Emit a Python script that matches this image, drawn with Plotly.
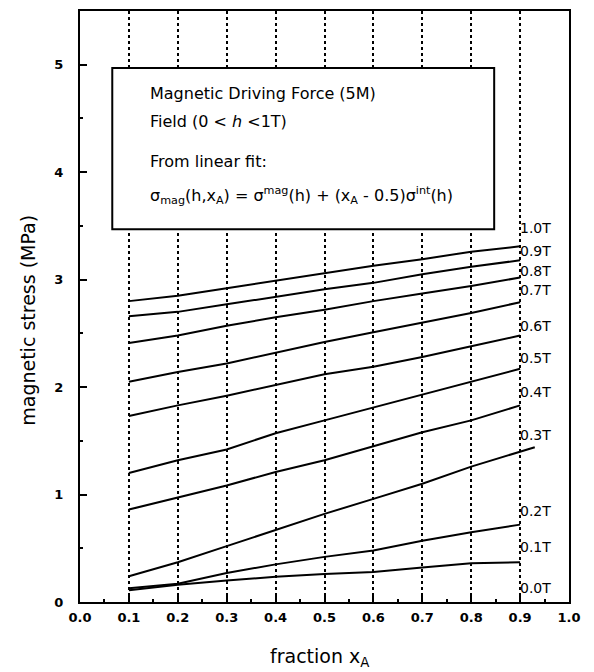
import plotly.graph_objects as go

# ---- data ----
fraction_x = [0.1, 0.2, 0.3, 0.4, 0.5, 0.6, 0.7, 0.8, 0.9]

stress_1_0T = [2.80, 2.85, 2.92, 2.99, 3.06, 3.13, 3.19, 3.26, 3.31]
stress_0_9T = [2.66, 2.70, 2.77, 2.84, 2.91, 2.97, 3.05, 3.12, 3.18]
stress_0_8T = [2.41, 2.48, 2.57, 2.65, 2.72, 2.80, 2.87, 2.94, 3.02]
stress_0_7T = [2.05, 2.14, 2.22, 2.32, 2.42, 2.51, 2.60, 2.69, 2.79]
stress_0_6T = [1.73, 1.83, 1.92, 2.02, 2.12, 2.19, 2.28, 2.38, 2.48]
stress_0_5T = [1.20, 1.32, 1.42, 1.57, 1.69, 1.81, 1.93, 2.05, 2.17]
stress_0_4T = [0.86, 0.97, 1.085, 1.21, 1.32, 1.45, 1.58, 1.69, 1.83]
stress_0_3T = [0.24, 0.37, 0.52, 0.67, 0.82, 0.96, 1.10, 1.26, 1.40]
stress_0_2T = [0.127, 0.17, 0.27, 0.35, 0.42, 0.48, 0.57, 0.65, 0.72]
stress_0_1T = [0.11, 0.16, 0.20, 0.235, 0.26, 0.28, 0.32, 0.36, 0.37]

# the 0.3T curve runs slightly past x = 0.9
ext_0_3T_x = [0.93]
ext_0_3T_y = [1.44]

series = [stress_1_0T, stress_0_9T, stress_0_8T, stress_0_7T, stress_0_6T,
          stress_0_5T, stress_0_4T, stress_0_3T, stress_0_2T, stress_0_1T]
series_names = ["1.0T", "0.9T", "0.8T", "0.7T", "0.6T",
                "0.5T", "0.4T", "0.3T", "0.2T", "0.1T"]

field_labels = ["1.0T", "0.9T", "0.8T", "0.7T", "0.6T", "0.5T",
                "0.4T", "0.3T", "0.2T", "0.1T", "0.0T"]
field_label_y = [3.48, 3.27, 3.08, 2.90, 2.57, 2.27, 1.95, 1.55, 0.85, 0.51, 0.13]
field_label_x = 0.9

x_ticks = [0.0, 0.1, 0.2, 0.3, 0.4, 0.5, 0.6, 0.7, 0.8, 0.9, 1.0]
y_ticks = [0, 1, 2, 3, 4, 5]

FONT = "DejaVu Sans"

fig = go.Figure()
for name, ys in zip(series_names, series):
    xs = list(fraction_x)
    yv = list(ys)
    if name == "0.3T":
        xs += ext_0_3T_x
        yv += ext_0_3T_y
    fig.add_trace(go.Scatter(x=xs, y=yv, mode="lines", name=name,
                             line=dict(color="black", width=2),
                             showlegend=False, hoverinfo="skip"))

# field labels at the right end of the curves
for lab, yy in zip(field_labels, field_label_y):
    fig.add_annotation(x=field_label_x, y=yy, xref="x", yref="y", text=lab,
                       showarrow=False, xanchor="left", yanchor="middle", xshift=-2,
                       font=dict(family=FONT, size=14, color="black"))

# text box
fig.add_shape(type="rect", xref="x", yref="y", x0=0.066, x1=0.847, y0=3.47, y1=4.97,
              line=dict(color="black", width=2), fillcolor="white", layer="above")

box_lines = [
    ("Magnetic Driving Force (5M)", 4.73),
    ("Field (0 &lt; <i>h</i> &lt;1T)", 4.47),
    ("From linear fit:", 4.10),
    ("σ<sub>mag</sub>(h,x<sub>A</sub>) = σ<sup>mag</sup>(h) + (x<sub>A</sub> - 0.5)σ<sup>int</sup>(h)", 3.78),
]
for txt, yy in box_lines:
    fig.add_annotation(x=0.139, y=yy, xref="x", yref="y", text=txt, showarrow=False,
                       xanchor="left", yanchor="middle",
                       font=dict(family=FONT, size=16, color="black"))

# axis titles
fig.add_annotation(x=-0.107, y=0.477, xref="paper", yref="paper",
                   text="magnetic stress (MPa)", textangle=-90, showarrow=False,
                   xanchor="center", yanchor="middle",
                   font=dict(family=FONT, size=19, color="black"))
fig.add_annotation(x=0.49, y=-0.094, xref="paper", yref="paper",
                   text="fraction x<sub>A</sub>", showarrow=False,
                   xanchor="center", yanchor="middle",
                   font=dict(family=FONT, size=19, color="black"))

fig.update_layout(
    width=594, height=672,
    margin=dict(l=80, r=25, t=9, b=70),
    paper_bgcolor="white", plot_bgcolor="white",
    showlegend=False,
)
fig.update_xaxes(
    range=[0, 1.0], tickvals=x_ticks, ticktext=[f"{v:.1f}" for v in x_ticks],
    ticks="inside", ticklen=6, tickwidth=1.5, tickcolor="black",
    minor=dict(ticks="inside", ticklen=3, tickwidth=1.5, tickcolor="black", dtick=0.05,
               tick0=0, showgrid=False),
    showline=True, linecolor="black", linewidth=2, mirror=True,
    showgrid=True, gridcolor="black", griddash="dot", gridwidth=1.5,
    zeroline=False,
    tickfont=dict(family=FONT, size=13, color="black", weight="bold"),
    ticklabelstandoff=2,
)
fig.update_yaxes(
    range=[0, 5.5], tickvals=y_ticks, ticktext=[str(v) for v in y_ticks],
    ticks="inside", ticklen=7, tickwidth=1.5, tickcolor="black",
    minor=dict(ticks="inside", ticklen=3, tickwidth=1.5, tickcolor="black", dtick=0.5,
               tick0=0, showgrid=False),
    showline=True, linecolor="black", linewidth=2, mirror=True,
    showgrid=False, zeroline=False,
    tickfont=dict(family=FONT, size=13, color="black", weight="bold"),
    ticklabelstandoff=12,
)

fig.write_html("out.html")
